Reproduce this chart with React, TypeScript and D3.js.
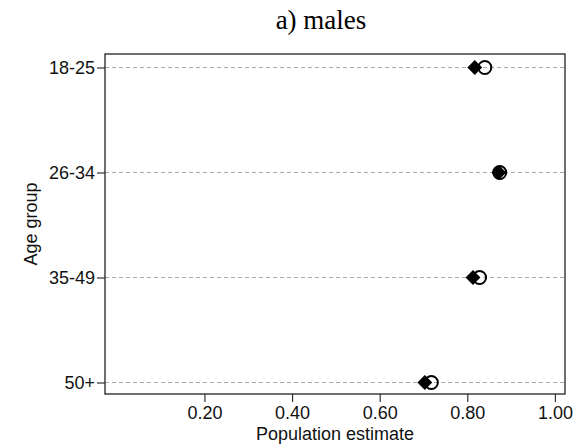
import React, { useEffect, useRef } from 'react';
import * as d3 from 'd3';

const ageGroups = ['18-25', '26-34', '35-49', '50+'];
const diamondValues = [0.817, 0.872, 0.813, 0.703];
const circleValues = [0.84, 0.874, 0.828, 0.718];
const xTicks = [0.2, 0.4, 0.6, 0.8, 1.0];

const App = () => {
  const svgRef = useRef<SVGSVGElement>(null);

  useEffect(() => {
    const width = 576;
    const height = 444;
    const margin = { top: 54, right: 11, bottom: 50, left: 105 };
    const font = '"Liberation Sans", Arial, sans-serif';

    const svg = d3.select(svgRef.current)
      .attr('width', width)
      .attr('height', height);
    svg.selectAll('*').remove();

    const x = d3.scaleLinear()
      .domain([-0.027, 1.023])
      .range([margin.left, width - margin.right]);

    const y = d3.scalePoint<string>()
      .domain(ageGroups)
      .range([67.5, 382.5]);

    const bottom = height - margin.bottom;

    // title
    svg.append('text')
      .attr('x', 321)
      .attr('y', 29)
      .attr('text-anchor', 'middle')
      .style('font-family', '"Liberation Serif", "Times New Roman", serif')
      .style('font-size', '27px')
      .text('a) males');

    // dashed gridlines
    svg.append('g')
      .selectAll('line')
      .data(ageGroups)
      .enter()
      .append('line')
      .attr('x1', margin.left)
      .attr('x2', width - margin.right)
      .attr('y1', d => y(d)!)
      .attr('y2', d => y(d)!)
      .attr('stroke', '#aaa')
      .attr('stroke-width', 1)
      .attr('stroke-dasharray', '4,3');

    // box
    svg.append('rect')
      .attr('x', margin.left)
      .attr('y', margin.top)
      .attr('width', width - margin.right - margin.left)
      .attr('height', bottom - margin.top)
      .attr('fill', 'none')
      .attr('stroke', '#222')
      .attr('stroke-width', 1.3);

    // x axis
    const xAxis = svg.append('g')
      .attr('transform', `translate(0,${bottom})`)
      .call(d3.axisBottom(x).tickValues(xTicks).tickFormat(d3.format('.2f')).tickSize(8).tickPadding(4));
    xAxis.select('.domain').remove();
    xAxis.selectAll('line').attr('stroke', '#333').attr('stroke-width', 1.2);
    xAxis.selectAll('text')
      .style('font-family', font)
      .style('font-size', '18px')
      .attr('fill', '#111');

    // y axis
    const yAxis = svg.append('g')
      .attr('transform', `translate(${margin.left},0)`)
      .call(d3.axisLeft(y).tickSize(8).tickPadding(2));
    yAxis.select('.domain').remove();
    yAxis.selectAll('line').attr('stroke', '#333').attr('stroke-width', 1.2);
    yAxis.selectAll('text')
      .style('font-family', font)
      .style('font-size', '18px')
      .attr('fill', '#111');

    // hollow circles
    svg.append('g')
      .selectAll('circle')
      .data(ageGroups)
      .enter()
      .append('circle')
      .attr('cx', (d, i) => x(circleValues[i]))
      .attr('cy', d => y(d)!)
      .attr('r', 6.5)
      .attr('fill', 'none')
      .attr('stroke', '#000')
      .attr('stroke-width', 2);

    // filled diamonds
    const diamond = d3.symbol().type(d3.symbolDiamond2).size(140);
    svg.append('g')
      .selectAll('path')
      .data(ageGroups)
      .enter()
      .append('path')
      .attr('d', diamond)
      .attr('transform', (d, i) => `translate(${x(diamondValues[i])},${y(d)})`)
      .attr('fill', '#000');

    // axis labels
    svg.append('text')
      .attr('x', (margin.left + width - margin.right) / 2)
      .attr('y', 440)
      .attr('text-anchor', 'middle')
      .style('font-family', font)
      .style('font-size', '18px')
      .attr('fill', '#111')
      .text('Population estimate');

    svg.append('text')
      .attr('transform', 'rotate(-90)')
      .attr('x', -(margin.top + bottom) / 2)
      .attr('y', 37)
      .attr('text-anchor', 'middle')
      .style('font-family', font)
      .style('font-size', '18px')
      .attr('fill', '#111')
      .text('Age group');
  }, []);

  return (
    <svg ref={svgRef} style={{ position: 'absolute', left: 0, top: 0 }}></svg>
  );
};

export default App;
